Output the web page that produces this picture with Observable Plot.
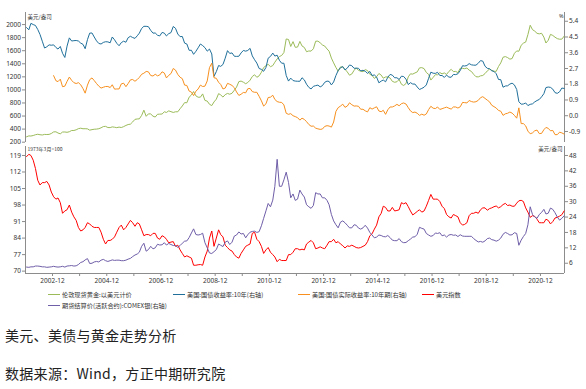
<!DOCTYPE html>
<html>
<head>
<meta charset="utf-8">
<script src="https://cdn.jsdelivr.net/npm/d3@7"></script>
<script src="https://cdn.jsdelivr.net/npm/@observablehq/plot@0.6"></script>
<style>
  html, body { margin: 0; padding: 0; background: #fff; }
  #wrap { position: relative; width: 586px; height: 389px; overflow: hidden; background: #fff;
          font-family: "Noto Sans CJK SC", "Noto Sans", sans-serif; }
  #topPanel, #botPanel { position: absolute; left: 0; }
  #topPanel { top: 0; }
  #botPanel { top: 142px; }
  .lg { position: absolute; display: flex; align-items: center; font-size: 6.2px; color: #333; white-space: nowrap; }
  .lg i { display: inline-block; width: 12px; height: 1.4px; margin-right: 2px; }
  .note { position: absolute; left: 5px; font-size: 14px; color: #222; white-space: nowrap; letter-spacing: 0.3px; }
</style>
</head>
<body>
<div id="wrap">
  <div id="topPanel"></div>
  <div id="botPanel"></div>
  <div id="legend"></div>
  <div class="note" id="title" style="top:325px"></div>
  <div class="note" id="source" style="top:363px"></div>
</div>
<script>
// ---------------- data (monthly) ----------------
const seriesNames = [
  "伦敦现货黄金:以美元计价",
  "美国:国债收益率:10年(右轴)",
  "美国:国债实际收益率:10年期(右轴)",
  "美元指数",
  "期货结算价(活跃合约):COMEX银(右轴)"
];
const seriesColors = ["#9bbb59", "#1f6f9a", "#f7901e", "#ff0000", "#6f5ea8"];

const startMonth = [2002, 1];      // gold, 10y, dollar, silver
const realStartMonth = [2003, 1];  // real yield

const gold = [
  282,296,294,302,314,321,314,310,319,317,319,333,
  357,359,340,328,355,356,351,360,379,379,389,407,
  414,405,406,404,384,392,398,400,406,420,439,442,
  424,423,434,429,422,431,424,438,456,470,476,510,
  549,555,557,610,690,596,633,632,598,585,627,629,
  631,665,655,679,667,655,665,665,712,754,806,803,
  889,922,975,909,888,889,939,839,829,780,760,816,
  858,943,924,890,928,946,934,949,996,1043,1127,1135,
  1118,1095,1113,1149,1205,1232,1193,1215,1271,1343,1370,1391,
  1356,1372,1424,1474,1510,1528,1572,1780,1772,1665,1739,1652,
  1656,1742,1673,1650,1585,1596,1594,1630,1745,1747,1721,1688,
  1671,1627,1593,1487,1414,1343,1286,1352,1348,1316,1275,1225,
  1244,1300,1336,1299,1287,1279,1311,1296,1239,1222,1176,1202,
  1251,1227,1179,1198,1199,1182,1131,1117,1125,1159,1086,1068,
  1097,1200,1246,1242,1260,1276,1337,1341,1326,1267,1238,1151,
  1192,1234,1231,1266,1246,1260,1237,1283,1315,1280,1283,1265,
  1331,1331,1325,1335,1303,1282,1238,1202,1199,1215,1221,1250,
  1291,1320,1301,1285,1284,1359,1413,1500,1510,1495,1471,1480,
  1560,1597,1592,1683,1716,1732,1847,1990,1922,1900,1866,1858,
  1867,1808,1718,1760,1850,1834,1807,1785,1776,1777,1822
];

const tenYear = [
  5.04,4.91,5.28,5.21,5.16,4.93,4.65,4.26,3.87,3.94,4.05,4.03,
  4.05,3.90,3.81,3.96,3.57,3.33,3.98,4.45,4.27,4.29,4.30,4.27,
  4.15,4.08,3.83,4.35,4.72,4.73,4.50,4.28,4.13,4.10,4.19,4.23,
  4.22,4.17,4.50,4.34,4.14,4.00,4.18,4.26,4.20,4.46,4.54,4.47,
  4.42,4.57,4.72,4.99,5.11,5.11,5.09,4.88,4.72,4.73,4.60,4.56,
  4.76,4.72,4.56,4.69,4.75,5.10,5.00,4.67,4.52,4.53,4.15,4.10,
  3.74,3.74,3.51,3.68,3.88,4.10,4.01,3.89,3.69,3.81,3.53,2.25,
  2.52,2.87,2.82,2.93,3.29,3.72,3.56,3.59,3.40,3.39,3.40,3.59,
  3.73,3.69,3.73,3.85,3.42,3.20,3.01,2.70,2.65,2.54,2.76,3.29,
  3.39,3.58,3.41,3.46,3.17,3.00,3.00,2.30,1.98,2.15,2.01,1.98,
  1.97,1.97,2.17,2.05,1.80,1.62,1.53,1.68,1.72,1.75,1.65,1.72,
  1.91,1.98,1.96,1.76,1.93,2.30,2.58,2.74,2.81,2.62,2.72,2.90,
  2.86,2.71,2.72,2.71,2.56,2.60,2.54,2.42,2.53,2.30,2.33,2.21,
  1.88,1.98,2.04,1.94,2.20,2.36,2.32,2.17,2.17,2.07,2.26,2.24,
  2.09,1.78,1.89,1.81,1.81,1.64,1.50,1.56,1.63,1.76,2.14,2.49,
  2.43,2.42,2.48,2.30,2.30,2.19,2.32,2.21,2.20,2.36,2.35,2.40,
  2.58,2.86,2.84,2.87,2.98,2.91,2.89,2.89,3.00,3.15,3.12,2.83,
  2.71,2.68,2.57,2.53,2.40,2.07,2.06,1.63,1.70,1.71,1.81,1.86,
  1.76,1.50,0.80,0.66,0.67,0.73,0.58,0.65,0.68,0.79,0.87,0.93,
  1.08,1.26,1.61,1.64,1.62,1.52,1.32,1.28,1.37,1.58,1.56
];

const realYield = [
  2.29,2.00,1.95,2.09,1.66,1.69,1.96,2.21,2.02,1.89,1.84,1.89,
  1.77,1.55,1.29,1.75,2.06,2.16,2.01,1.84,1.69,1.58,1.63,1.67,
  1.67,1.61,1.77,1.52,1.53,1.53,1.82,1.86,1.66,1.84,2.05,2.07,
  1.97,2.07,2.19,2.37,2.43,2.53,2.51,2.30,2.27,2.37,2.28,2.33,
  2.51,2.44,2.16,2.31,2.41,2.70,2.61,2.36,2.20,2.12,1.75,1.73,
  1.41,1.35,1.15,1.40,1.53,1.75,1.67,1.69,1.99,2.75,3.00,2.17,
  2.14,1.91,1.79,1.53,1.58,1.85,1.80,1.73,1.60,1.36,1.16,1.23,
  1.33,1.31,1.54,1.56,1.38,1.34,1.34,1.11,0.85,0.55,0.68,1.04,
  1.06,1.17,0.93,0.81,0.77,0.76,0.62,0.14,0.08,0.12,0.00,-0.05,
  -0.11,-0.25,-0.14,-0.21,-0.34,-0.50,-0.60,-0.59,-0.71,-0.75,-0.78,-0.76,
  -0.61,-0.57,-0.59,-0.65,-0.36,0.25,0.46,0.55,0.66,0.48,0.55,0.74,
  0.63,0.55,0.56,0.54,0.37,0.37,0.28,0.22,0.46,0.38,0.45,0.51,
  0.27,0.23,0.31,0.08,0.34,0.50,0.50,0.56,0.65,0.57,0.69,0.73,
  0.67,0.46,0.28,0.18,0.21,0.14,0.02,0.09,0.03,0.10,0.35,0.54,
  0.43,0.41,0.50,0.36,0.40,0.45,0.49,0.43,0.38,0.50,0.50,0.44,
  0.51,0.76,0.75,0.73,0.87,0.81,0.78,0.80,0.88,1.03,1.09,0.99,
  0.89,0.79,0.60,0.52,0.44,0.30,0.26,0.02,0.11,0.14,0.21,0.15,
  0.02,-0.14,0.45,-0.45,-0.45,-0.58,-0.88,-1.03,-0.98,-0.86,-0.82,-1.02,
  -1.01,-0.80,-0.67,-0.72,-0.86,-0.84,-1.08,-1.08,-0.94,-0.98,-1.05
];

const dollarIndex = [
  118.5,119.5,119.0,117.0,113.5,108.5,106.5,107.5,107.5,108.0,106.5,103.5,
  101.5,100.5,101.0,99.0,94.5,95.5,96.0,98.0,95.0,93.0,91.5,88.5,
  87.0,87.5,88.5,90.5,90.0,89.0,88.5,88.5,88.5,86.5,83.5,81.5,
  83.0,83.0,83.5,84.5,86.5,88.5,89.5,87.5,88.5,90.0,91.5,90.5,
  89.0,90.5,90.0,87.5,85.0,85.5,85.5,85.0,86.0,86.0,84.0,83.5,
  85.0,84.5,83.5,82.0,82.3,82.5,80.5,81.0,79.0,77.5,76.0,76.5,
  76.0,75.5,72.5,72.5,72.7,72.8,72.5,76.0,78.5,84.0,87.0,80.5,
  84.0,87.5,85.5,84.5,81.0,80.0,79.0,78.5,77.0,76.0,75.5,77.5,
  79.0,80.5,81.0,81.5,86.0,86.5,83.5,82.5,80.5,77.5,79.0,80.0,
  78.0,77.0,76.0,74.0,75.0,74.5,74.5,74.5,77.0,77.0,78.0,79.5,
  79.5,79.0,79.3,79.0,81.5,82.3,83.0,82.0,79.5,79.8,80.3,79.8,
  79.5,81.0,82.5,82.5,83.5,82.0,82.5,81.5,80.8,79.8,80.7,80.5,
  81.0,80.5,80.0,79.8,80.0,80.5,81.0,82.5,85.0,85.8,87.8,89.5,
  93.0,94.5,97.5,97.0,95.5,95.5,97.0,95.5,95.7,96.0,99.0,98.5,
  99.0,97.3,95.5,93.8,94.5,95.3,96.0,95.0,95.5,97.5,100.0,102.5,
  100.5,100.5,100.5,99.5,97.5,96.5,94.0,93.0,92.5,94.0,93.5,93.0,
  90.5,89.5,89.8,90.5,93.5,94.5,94.5,95.0,94.5,96.0,96.8,96.8,
  95.8,96.5,96.8,97.3,97.6,96.8,97.3,98.2,98.7,97.8,98.0,97.5,
  97.5,98.8,99.8,100.0,99.5,96.8,95.0,92.8,93.5,93.2,92.0,90.5,
  90.5,90.5,92.0,91.5,90.0,91.0,92.5,92.8,93.3,93.9,95.5
];

const silver = [
  4.5,4.4,4.6,4.6,4.9,4.9,4.8,4.6,4.6,4.4,4.5,4.6,
  4.8,4.6,4.5,4.6,4.8,4.5,4.9,5.0,5.1,4.9,5.0,5.5,
  6.3,6.6,7.3,7.8,5.9,6.0,6.5,6.7,6.5,7.2,7.5,7.0,
  6.7,7.0,7.3,7.1,7.2,7.2,7.0,7.0,7.2,7.6,7.9,8.6,
  9.2,9.6,10.3,12.6,13.8,10.7,11.3,12.6,11.6,12.0,13.4,13.1,
  13.2,14.0,13.1,13.7,13.3,12.9,12.9,12.2,12.9,13.8,14.6,14.7,
  16.0,17.8,19.4,17.2,17.0,17.2,17.7,14.0,12.0,10.0,9.8,10.5,
  11.3,13.5,13.0,12.5,14.2,14.7,13.3,14.2,16.6,17.0,18.2,17.4,
  17.6,15.9,17.1,18.1,18.4,18.5,18.0,18.3,20.6,23.5,26.4,29.3,
  28.0,30.6,36.0,46.5,36.0,36.0,38.5,41.5,37.5,31.5,33.0,30.5,
  31.0,34.5,33.0,31.8,28.8,28.0,27.4,28.5,33.5,33.0,33.0,31.5,
  31.5,30.5,28.8,25.0,22.5,21.0,19.8,22.0,22.5,21.8,20.8,19.8,
  19.8,21.0,20.8,19.7,19.3,19.8,20.8,19.7,18.0,17.0,15.9,16.2,
  17.0,16.8,16.4,16.3,16.8,16.0,15.0,14.8,14.8,15.6,14.4,14.0,
  14.1,14.8,15.4,16.2,16.3,17.3,20.0,19.6,19.3,17.6,17.0,16.5,
  16.8,17.8,17.6,17.9,16.7,17.0,16.2,17.0,17.2,16.9,17.0,16.4,
  17.1,16.6,16.5,16.5,16.5,16.5,15.6,14.9,14.3,14.5,14.2,14.7,
  15.6,15.8,15.2,15.0,14.6,15.0,15.8,17.3,18.0,17.6,17.0,17.1,
  17.9,17.6,13.0,15.0,16.4,17.6,21.0,28.0,25.0,24.0,23.5,25.0,
  25.8,27.0,25.2,25.5,27.5,27.0,25.7,24.0,22.8,23.5,24.5
];

// tick labels
const xTickLabels = ["2002-12","2003-12","2004-12","2005-12","2006-12","2007-12","2008-12","2009-12","2010-12",
  "2011-12","2012-12","2013-12","2014-12","2015-12","2016-12","2017-12","2018-12","2019-12","2020-12"];
const topLeftTicks = [200,400,600,800,1000,1200,1400,1600,1800,2000];
const topRightTicks = [-0.9,0.0,0.9,1.8,2.7,3.6,4.5,5.4];
const botLeftTicks = [70,77,84,91,98,105,112,119];
const botRightTicks = [6,12,18,24,30,36,42,48];

const unitTopLeft = "美元/盎司", unitTopRight = "%";
const unitBotLeft = "1973年3月=100", unitBotRight = "美元/盎司";
const titleText = "美元、美债与黄金走势分析";
const sourceText = "数据来源：Wind，方正中期研究院";

// ---------------- build ----------------
const toDate = (start, i) => new Date(Date.UTC(start[0], start[1] - 1 + i, 15));
const toSeries = (arr, start) => arr.map((v, i) => ({date: toDate(start, i), v}));

const goldData = toSeries(gold, startMonth);
const tenData = toSeries(tenYear, startMonth);
const realData = toSeries(realYield, realStartMonth);
const dxyData = toSeries(dollarIndex, startMonth);
const silverData = toSeries(silver, startMonth);

const xDomain = [new Date(Date.UTC(2002, 0, 1)), new Date(Date.UTC(2021, 10, 20))];
const xTicks = xTickLabels.map(s => new Date(Date.UTC(+s.slice(0, 4), 11, 31)));
const tickLabelOf = d => { const y = d.getUTCFullYear(); return y % 2 === 0 ? `${y}-12` : ""; };

const axisColor = "#8c8c8c", textColor = "#333";
const font = '"Noto Sans", "Open Sans", sans-serif';
const fmt1 = v => { const r = Math.round(v * 10) / 10; return (r === 0 ? 0 : r).toFixed(1); };

// top panel scales
const topLeftDomain = [195, 2185];
const topRightDomain = [-1.53, 5.9];
const rT = d3.scaleLinear().domain(topRightDomain).range(topLeftDomain);

const topPlot = Plot.plot({
  width: 586, height: 145,
  marginLeft: 25, marginRight: 22, marginTop: 12, marginBottom: 3,
  style: {fontFamily: font, background: "transparent", overflow: "visible"},
  x: {type: "utc", domain: xDomain, axis: null},
  y: {domain: topLeftDomain, axis: null},
  marks: [
    Plot.ruleX([xDomain[0]], {stroke: axisColor, strokeWidth: 1}),
    Plot.ruleX([xDomain[1]], {stroke: axisColor, strokeWidth: 1}),
    Plot.axisY(topLeftTicks, {anchor: "left", tickSize: 3, tickPadding: 1.5, stroke: axisColor, fill: textColor, fontSize: 6.5, label: null, tickFormat: d => String(d)}),
    Plot.axisY(topRightTicks.map(rT), {anchor: "right", tickSize: 3, tickPadding: 1.5, stroke: axisColor, fill: textColor, fontSize: 6.5, label: null, tickFormat: d => fmt1(rT.invert(d))}),
    Plot.line(goldData, {x: "date", y: "v", stroke: seriesColors[0], strokeWidth: 1}),
    Plot.line(tenData, {x: "date", y: d => rT(d.v), stroke: seriesColors[1], strokeWidth: 1}),
    Plot.line(realData, {x: "date", y: d => rT(d.v), stroke: seriesColors[2], strokeWidth: 1}),
    Plot.text([unitTopLeft], {text: d => d, frameAnchor: "top-left", dx: 2, dy: 3, textAnchor: "start", fontSize: 5.5, fill: textColor, fontFamily: '"Noto Sans CJK SC", sans-serif'}),
    Plot.text([unitTopRight], {text: d => d, frameAnchor: "top-right", dx: -1, dy: 2, textAnchor: "end", fontSize: 5.5, fill: textColor})
  ]
});
document.getElementById("topPanel").appendChild(topPlot);

// bottom panel scales
const botLeftDomain = [69, 122.8];
const botRightDomain = [2, 51.5];
const rB = d3.scaleLinear().domain(botRightDomain).range(botLeftDomain);

const botPlot = Plot.plot({
  width: 586, height: 146,
  marginLeft: 25, marginRight: 22, marginTop: 4, marginBottom: 15,
  style: {fontFamily: font, background: "transparent", overflow: "visible"},
  x: {type: "utc", domain: xDomain, axis: null},
  y: {domain: botLeftDomain, axis: null},
  marks: [
    Plot.ruleX([xDomain[0]], {stroke: axisColor, strokeWidth: 1}),
    Plot.ruleX([xDomain[1]], {stroke: axisColor, strokeWidth: 1}),
    Plot.ruleY([botLeftDomain[0]], {stroke: axisColor, strokeWidth: 1}),
    Plot.axisX(xTicks, {anchor: "bottom", tickSize: 3, tickPadding: 2, stroke: axisColor, fill: textColor, fontSize: 6.5, label: null, tickFormat: tickLabelOf}),
    Plot.axisY(botLeftTicks, {anchor: "left", tickSize: 3, tickPadding: 1.5, stroke: axisColor, fill: textColor, fontSize: 6.5, label: null, tickFormat: d => String(d)}),
    Plot.axisY(botRightTicks.map(rB), {anchor: "right", tickSize: 3, tickPadding: 1.5, stroke: axisColor, fill: textColor, fontSize: 6.5, label: null, tickFormat: d => String(Math.round(rB.invert(d)))}),
    Plot.line(dxyData, {x: "date", y: "v", stroke: seriesColors[3], strokeWidth: 1}),
    Plot.line(silverData, {x: "date", y: d => rB(d.v), stroke: seriesColors[4], strokeWidth: 1}),
    Plot.text([unitBotLeft], {text: d => d, frameAnchor: "top-left", dx: 2, dy: 1, textAnchor: "start", fontSize: 5, fill: textColor, fontFamily: '"Noto Sans CJK SC", sans-serif'}),
    Plot.text([unitBotRight], {text: d => d, frameAnchor: "top-right", dx: -2, dy: 1, textAnchor: "end", fontSize: 5.5, fill: textColor, fontFamily: '"Noto Sans CJK SC", sans-serif'})
  ]
});
document.getElementById("botPanel").appendChild(botPlot);

// legend
const legendPos = [[48, 290], [173, 290], [298, 290], [422, 290], [48, 301]];
const legend = document.getElementById("legend");
seriesNames.forEach((name, i) => {
  const el = document.createElement("div");
  el.className = "lg";
  el.style.left = legendPos[i][0] + "px";
  el.style.top = legendPos[i][1] + "px";
  const sw = document.createElement("i");
  sw.style.background = seriesColors[i];
  el.appendChild(sw);
  el.appendChild(document.createTextNode(name));
  legend.appendChild(el);
});
document.getElementById("title").textContent = titleText;
document.getElementById("source").textContent = sourceText;
</script>
</body>
</html>
